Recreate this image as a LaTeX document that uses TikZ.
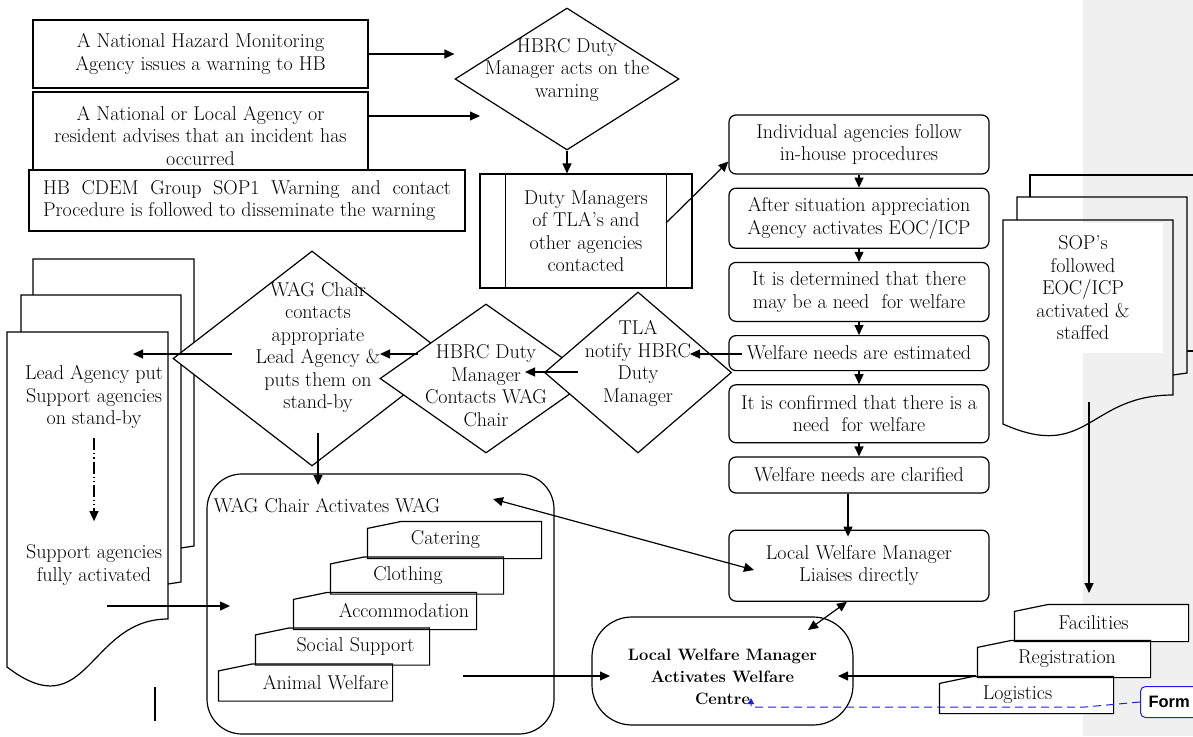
\documentclass[tikz,border=0pt]{standalone}
\usepackage{fontspec}
\newfontfamily\notefont{Liberation Sans}
\usepackage{tikz}
\usetikzlibrary{arrows.meta}
\usetikzlibrary{shapes.geometric}
\usetikzlibrary{positioning}
\definecolor{paneGray}{RGB}{240,240,240}
\definecolor{noteBlue}{RGB}{30,30,235}

\begin{document}
\begin{tikzpicture}[x=1pt, y=-1pt, >={Triangle[length=10pt,width=9pt]}, line width=1.2pt, node distance=13pt, font=\fontsize{20}{22.5}\selectfont]
  \tikzstyle{every node}=[inner sep=2pt]
  \tikzstyle{wbox}=[draw, fill=white, align=center, inner sep=0pt]
  \tikzstyle{rbox}=[wbox, rounded corners=7pt, minimum width=260pt]
  \tikzstyle{decide}=[diamond, draw, fill=white, inner sep=0pt]
  \tikzstyle{stair}=[fill=white, minimum height=36pt, inner sep=0pt]
  \tikzstyle{txt}=[align=center]

  \useasboundingbox (0,0) rectangle (1193,736);
  \clip (0,0) rectangle (1193,736);

  % comment pane on the right
  \fill[paneGray] (1083,0) rectangle (1193,736);

  % SOP document stack
  \node[fill=white, minimum width=160pt, minimum height=130pt, align=center] (sops) at (1083,288) {SOP's\\followed\\EOC/ICP\\activated \&\\staffed};
  \draw (1030,197) -- (1030,175) -- (1205,175);
  \draw (1187,351) -- (1205,351);
  \draw (1017,220) -- (1017,197) -- (1187,197) -- (1187,373) -- (1173,375);
  \draw (1003,220) -- (1173,220) -- (1173,395) .. controls (1088,395) and (1088,462) .. (1003,424) -- cycle;

  % lead agency document stack
  \draw (33,295) -- (33,259) -- (194,259) -- (194,546) -- (181,548);
  \draw (21,332) -- (21,295) -- (181,295) -- (181,582) -- (168,584);
  \draw (7,332) -- (168,332) -- (168,619) .. controls (88,619) and (88,729) .. (7,667) -- cycle;
  \node[txt] (lead) at (94,397) {Lead Agency put\\Support agencies\\on stand-by};
  \node[txt] (supp) at (94,565) {Support agencies\\fully activated};

  % warning sources
  \node[wbox, minimum width=335pt, minimum height=68pt] (nhm) at (200.5,54) {A National Hazard Monitoring\\Agency issues a warning to HB};
  \node[wbox, minimum width=335pt, minimum height=88pt] (adv) at (200.5,136) {A National or Local Agency or\\resident advises that an incident has\\occurred};
  \node[wbox, minimum width=436pt, minimum height=61pt, text width=408pt, align=justify] (sop1) at (247,200.5) {HB CDEM Group SOP1 Warning and contact\linebreak Procedure is followed to disseminate the warning};

  \node[decide, minimum width=224pt, minimum height=142pt, label={[align=center, yshift=9pt]center:HBRC Duty\\Manager acts on the\\warning}] (acts) at (567,79) {};
  \node[wbox, minimum width=212pt, minimum height=114pt] (proc) at (586,231) {Duty Managers\\of TLA's and\\other agencies\\contacted};
  \draw ([xshift=26pt]proc.north west) -- ([xshift=26pt]proc.south west);
  \draw ([xshift=-26pt]proc.north east) -- ([xshift=-26pt]proc.south east);

  % agency column
  \node[rbox, minimum height=59pt] (b1) at (859,144.5) {Individual agencies follow\\in-house procedures};
  \node[rbox, minimum height=60pt, below=of b1] (b2) {After situation appreciation\\Agency activates EOC/ICP};
  \node[rbox, minimum height=59pt, below=of b2] (b3) {It is determined that there\\may be a need\ \ for welfare};
  \node[rbox, minimum height=35pt, below=of b3] (b4) {Welfare needs are estimated};
  \node[rbox, minimum height=58pt, below=of b4] (b5) {It is confirmed that there is a\\need\ \ for welfare};
  \node[rbox, minimum height=36pt, below=of b5] (b6) {Welfare needs are clarified};
  \node[rbox, minimum height=71pt, below=36pt of b6] (b7) {Local Welfare Manager\\Liaises directly};

  % decisions
  \node[decide, minimum width=278pt, minimum height=215pt, label={[align=center, xshift=6pt, yshift=11pt]center:WAG Chair\\contacts\\appropriate\\Lead Agency \&\\puts them on\\stand-by}] (wagd) at (312,358.5) {};
  \node[decide, minimum width=212pt, minimum height=149pt, label={[align=center, yshift=-7pt]center:HBRC Duty\\Manager\\Contacts WAG\\Chair}] (hbrcd) at (486,378.5) {};
  \node[decide, minimum width=187pt, minimum height=161pt, label={[align=center, yshift=9pt]center:TLA\\notify HBRC\\Duty\\Manager}] (tlad) at (638,372.5) {};

  % WAG
  \node[draw, rounded corners=35pt, minimum width=347pt, minimum height=260pt] (wag) at (380.5,604) {};
  \node[anchor=west, inner sep=0pt] (wagtitle) at (213,506) {WAG Chair Activates WAG};
  \node[stair, minimum width=173pt, label={[xshift=-9pt]center:Catering}] (cater) at (454.5,540) {};
  \node[stair, minimum width=172pt, label={[xshift=-9pt]center:Clothing}] (cloth) at (417,575.5) {};
  \node[stair, minimum width=182pt, label={[xshift=19pt]center:Accommodation}] (accom) at (385,611) {};
  \node[stair, minimum width=173pt, label={[xshift=13pt]center:Social Support}] (social) at (342.5,646.5) {};
  \node[stair, minimum width=173pt, label={[xshift=20pt]center:Animal Welfare}] (animal) at (305.5,682.5) {};

  \node[wbox, rounded corners=40pt, minimum width=261pt, minimum height=108pt, label={[align=center, yshift=-6pt, font=\fontsize{16.5}{22}\selectfont\bfseries]center:Local Welfare Manager\\Activates Welfare\\Centre}] (centre) at (722.5,671) {};

  \node[stair, minimum width=173pt, label={[xshift=-8pt]center:Facilities}] (facil) at (1101.5,623) {};
  \node[stair, minimum width=172pt, label={[xshift=3pt]center:Registration}] (regist) at (1064,659) {};
  \node[stair, minimum width=173pt, label={[xshift=-9pt]center:Logistics}] (logist) at (1026.5,695) {};

  \foreach \s in {cater,cloth,accom,social,animal,facil,regist,logist}
    \draw ([yshift=-7pt]\s.north west) -- ([xshift=34pt]\s.north west) -- (\s.north east) -- (\s.south east) -- (\s.south west) -- cycle;

  \node[draw=noteBlue, fill=white, rounded corners=5pt, line width=1pt, anchor=west, minimum height=31pt, text width=80pt, inner xsep=8pt, align=left, font=\notefont\bfseries\fontsize{16.5}{18}\selectfont] (form) at (1140,702) {Form};

  % free ends
  \coordinate (advtip) at (480,116);
  \coordinate (procout) at (667,222);
  \coordinate (estout) at (742,354);
  \coordinate (tlain) at (690,354);
  \coordinate (tlaout) at (578,372);
  \coordinate (hbrcin) at (525,372);
  \coordinate (hbrcout) at (418,354);
  \coordinate (wagdin) at (380,354);
  \coordinate (wagdout) at (232,354);
  \coordinate (leadin) at (133,354);
  \coordinate (wagdbot) at (318,433);
  \coordinate (wagin) at (318,485);
  \coordinate (suppout) at (107,606);
  \coordinate (wagleft) at (230,606);
  \coordinate (wagright) at (463,676);
  \coordinate (centrein) at (610,676);
  \coordinate (logout) at (976,676);
  \coordinate (centreout) at (838,676);
  \coordinate (sopsout) at (1089,402);
  \coordinate (facilin) at (1089,593);
  \coordinate (wagcorner) at (493,499);
  \coordinate (liaisein) at (754,570);
  \coordinate (centretop) at (808,630);
  \coordinate (notebend) at (1085,707);
  \coordinate (notemark) at (751,698);

  \path[->]
    (nhm.east) edge (nhm.east -| acts.west)
    ([yshift=20pt]adv.east) edge (advtip)
    (acts.south) edge (acts.south |- proc.north)
    (procout) edge ([yshift=-17pt]b1.west)
    (b1) edge (b2)
    (b2) edge (b3)
    (b3) edge (b4)
    (b4) edge (b5)
    (b5) edge (b6)
    ([xshift=-11pt]b6.south) edge ([xshift=-11pt,yshift=-7pt]b7.north)
    (estout) edge (tlain)
    (tlaout) edge (hbrcin)
    (hbrcout) edge (wagdin)
    (wagdout) edge (leadin)
    (wagdbot) edge (wagin)
    (suppout) edge (wagleft)
    (wagright) edge (centrein)
    (logout) edge (centreout)
    (sopsout) edge (facilin);
  \path[<->]
    (wagcorner) edge (liaisein)
    ([xshift=-12pt]b7.south) edge (centretop);
  \draw[->, dash pattern=on 12pt off 3pt on 1.2pt off 3pt on 1.2pt off 3pt] ([yshift=-7pt]lead.south) -- ([yshift=21pt]supp.north);
  \draw (155,687) -- (155,721);

  \draw[noteBlue, line width=1pt, dash pattern=on 8pt off 5pt, -{Triangle[length=6pt,width=6pt]}] (form.west) -- (notebend) -| (notemark);
\end{tikzpicture}
\end{document}
